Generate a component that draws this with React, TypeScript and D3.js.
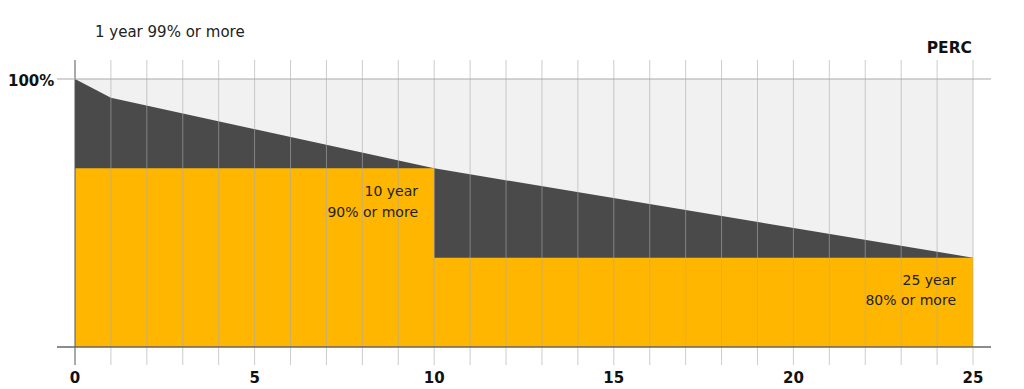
import * as d3 from "d3";

const years = d3.range(0, 26);
const tickYears = [0, 5, 10, 15, 20, 25];

// PERC degradation line (year, %)
const percYears = [0, 1, 10, 25];
const percValues = [100, 97.9, 90, 80];

// guaranteed minimum steps (year, %)
const stepYears = [0, 10, 10, 25];
const stepValues = [90, 90, 80, 80];

const W = 1024;
const H = 389;
const FONT = "'DejaVu Sans', sans-serif";

export default function App() {
  const x = d3.scaleLinear().domain([0, 25]).range([75, 973]);
  const y = d3.scaleLinear().domain([70, 100]).range([347, 79]);

  const percPts = percYears.map((yr, i) => [yr, percValues[i]] as [number, number]);
  const stepPts = stepYears.map((yr, i) => [yr, stepValues[i]] as [number, number]);

  const area = d3
    .area<[number, number]>()
    .x((d) => x(d[0]))
    .y0(y(70))
    .y1((d) => y(d[1]));

  const full = area([
    [0, 100],
    [25, 100],
  ]);

  return (
    <svg width={W} height={H} style={{ position: "absolute", left: 0, top: 0, background: "#fff" }}>
      <path d={full ?? ""} fill="#f1f1f1" />
      <path d={area(percPts) ?? ""} fill="#4a4a4a" />
      <path d={area(stepPts) ?? ""} fill="#ffb600" />

      {years.map((yr) => (
        <line
          key={yr}
          x1={x(yr)}
          x2={x(yr)}
          y1={60}
          y2={365}
          stroke={yr === 0 ? "#555" : "#aaa"}
          strokeOpacity={yr === 0 ? 1 : 0.6}
          strokeWidth={1}
        />
      ))}

      <line x1={57} x2={991} y1={y(100)} y2={y(100)} stroke="#aaa" strokeWidth={1.2} />
      <line x1={57} x2={991} y1={y(70)} y2={y(70)} stroke="#666" strokeWidth={1.5} />

      <text x={8} y={86} fontFamily={FONT} fontSize={15} fontWeight="bold" fill="#111">
        100%
      </text>

      {tickYears.map((yr) => (
        <text
          key={yr}
          x={x(yr)}
          y={383}
          textAnchor="middle"
          fontFamily={FONT}
          fontSize={15}
          fontWeight="bold"
          fill="#111"
        >
          {yr}
        </text>
      ))}

      <text x={95} y={37} fontFamily={FONT} fontSize={15} fill="#222">
        1 year 99% or more
      </text>
      <text x={972} y={53} textAnchor="end" fontFamily={FONT} fontSize={15.5} fontWeight="bold" fill="#111">
        PERC
      </text>

      <g fontFamily={FONT} fontSize={14} fill="#222" textAnchor="end">
        <text x={418} y={196}>10 year</text>
        <text x={418} y={217}>90% or more</text>
        <text x={956} y={285}>25 year</text>
        <text x={956} y={305}>80% or more</text>
      </g>
    </svg>
  );
}
